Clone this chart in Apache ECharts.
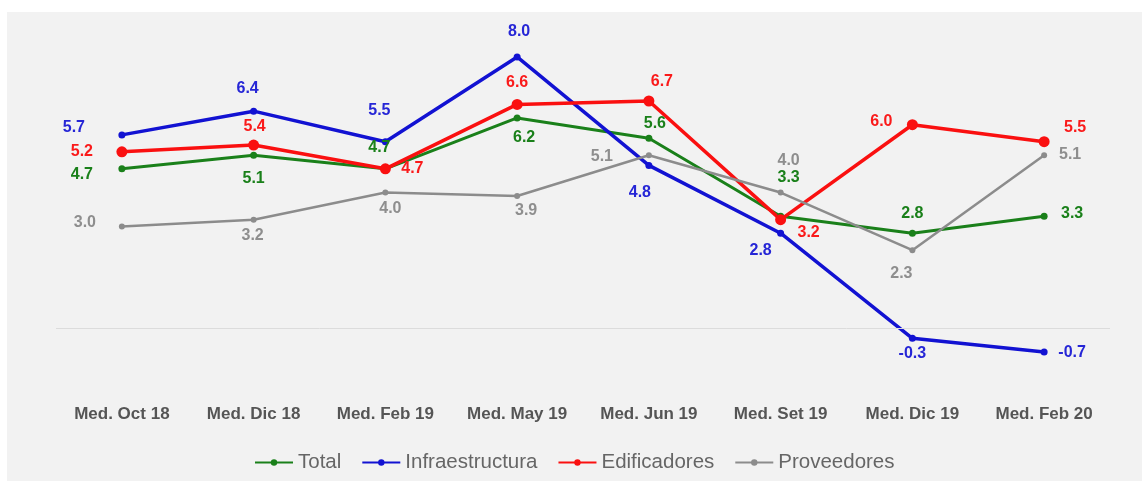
<!DOCTYPE html>
<html>
<head>
<meta charset="utf-8">
<script src="https://cdn.jsdelivr.net/npm/echarts@6/dist/echarts.min.js"></script>
<style>
  html, body { margin: 0; padding: 0; background: #ffffff; }
  #chart { width: 1142px; height: 481px; }
</style>
</head>
<body>
<div id="chart"></div>
<script>
// Survey periods
const categories = ['Med. Oct 18', 'Med. Dic 18', 'Med. Feb 19', 'Med. May 19',
                    'Med. Jun 19', 'Med. Set 19', 'Med. Dic 19', 'Med. Feb 20'];

// Series values
const total           = [4.7, 5.1, 4.7, 6.2, 5.6, 3.3, 2.8, 3.3];
const infraestructura = [5.7, 6.4, 5.5, 8.0, 4.8, 2.8, -0.3, -0.7];
const edificadores    = [5.2, 5.4, 4.7, 6.6, 6.7, 3.2, 6.0, 5.5];
const proveedores     = [3.0, 3.2, 4.0, 3.9, 5.1, 4.0, 2.3, 5.1];

// Where each value label sits, relative to its point (pixels)
const totalLabelShift = [[-40, 6], [0, 23], [-6, -21], [7, 20], [6, -15], [8, -39], [0, -20], [28, -3]];
const infraLabelShift = [[-48, -7], [-6, -23], [-6, -31], [2, -25], [-9, 27], [-20, 17], [0, 15], [28, 1]];
const edifLabelShift  = [[-40, 0], [1, -18], [27, 0], [0, -22], [13, -19], [28, 13], [-31, -3], [31, -14]];
const provLabelShift  = [[-37, -4], [-1, 16], [5, 16], [9, 15], [-47, 1], [8, -32], [-11, 23], [26, -1]];

const FONT = '"Liberation Sans", Arial, sans-serif';

function withLabels(values, shifts) {
  return values.map((v, i) => ({
    value: v,
    label: { offset: shifts[i] }
  }));
}

function lineSeries(name, values, shifts, color, width, symbolSize, labelColor) {
  return {
    name: name,
    type: 'line',
    data: withLabels(values, shifts),
    symbol: 'circle',
    symbolSize: symbolSize,
    itemStyle: { color: color },
    lineStyle: { color: color, width: width },
    label: {
      show: true,
      position: 'inside',
      color: labelColor,
      fontFamily: FONT,
      fontWeight: 'bold',
      fontSize: 16,
      formatter: p => p.value.toFixed(1)
    },
    emphasis: { disabled: true }
  };
}

const series = [
  lineSeries('Total', total, totalLabelShift, '#1a801a', 3, 7, '#1a801a'),
  lineSeries('Infraestructura', infraestructura, infraLabelShift, '#1212d2', 3.5, 7, '#2626d6'),
  lineSeries('Edificadores', edificadores, edifLabelShift, '#fa1010', 3.5, 11, '#fa1a1a'),
  lineSeries('Proveedores', proveedores, provLabelShift, '#8c8c8c', 2.5, 6, '#8e8e8e')
];

// Zero reference line
series[0].markLine = {
  silent: true,
  symbol: 'none',
  label: { show: false },
  lineStyle: { color: '#dcdcdc', width: 1, type: 'solid' },
  data: [{ yAxis: 0 }]
};

const chart = echarts.init(document.getElementById('chart'), null, { renderer: 'canvas' });
chart.setOption({
  animation: false,
  backgroundColor: 'transparent',
  graphic: [{
    type: 'rect',
    left: 7, top: 12,
    shape: { width: 1135, height: 469 },
    style: { fill: '#f2f2f2' },
    z: -10, silent: true
  }],
  grid: { left: 56, right: 32, top: 23, bottom: 85 },
  xAxis: {
    type: 'category',
    data: categories,
    axisLine: { show: false },
    axisTick: { show: false },
    axisLabel: {
      color: '#555555',
      fontFamily: FONT,
      fontWeight: 'bold',
      fontSize: 17,
      margin: 10
    }
  },
  yAxis: {
    type: 'value',
    min: -2,
    max: 9,
    show: false,
    splitLine: { show: false }
  },
  legend: {
    left: 249,
    top: 447,
    itemWidth: 38,
    itemHeight: 8,
    itemGap: 20,
    textStyle: { color: '#666666', fontFamily: FONT, fontSize: 20.5 },
    data: ['Total', 'Infraestructura', 'Edificadores', 'Proveedores']
  },
  series: series
});
</script>
</body>
</html>
